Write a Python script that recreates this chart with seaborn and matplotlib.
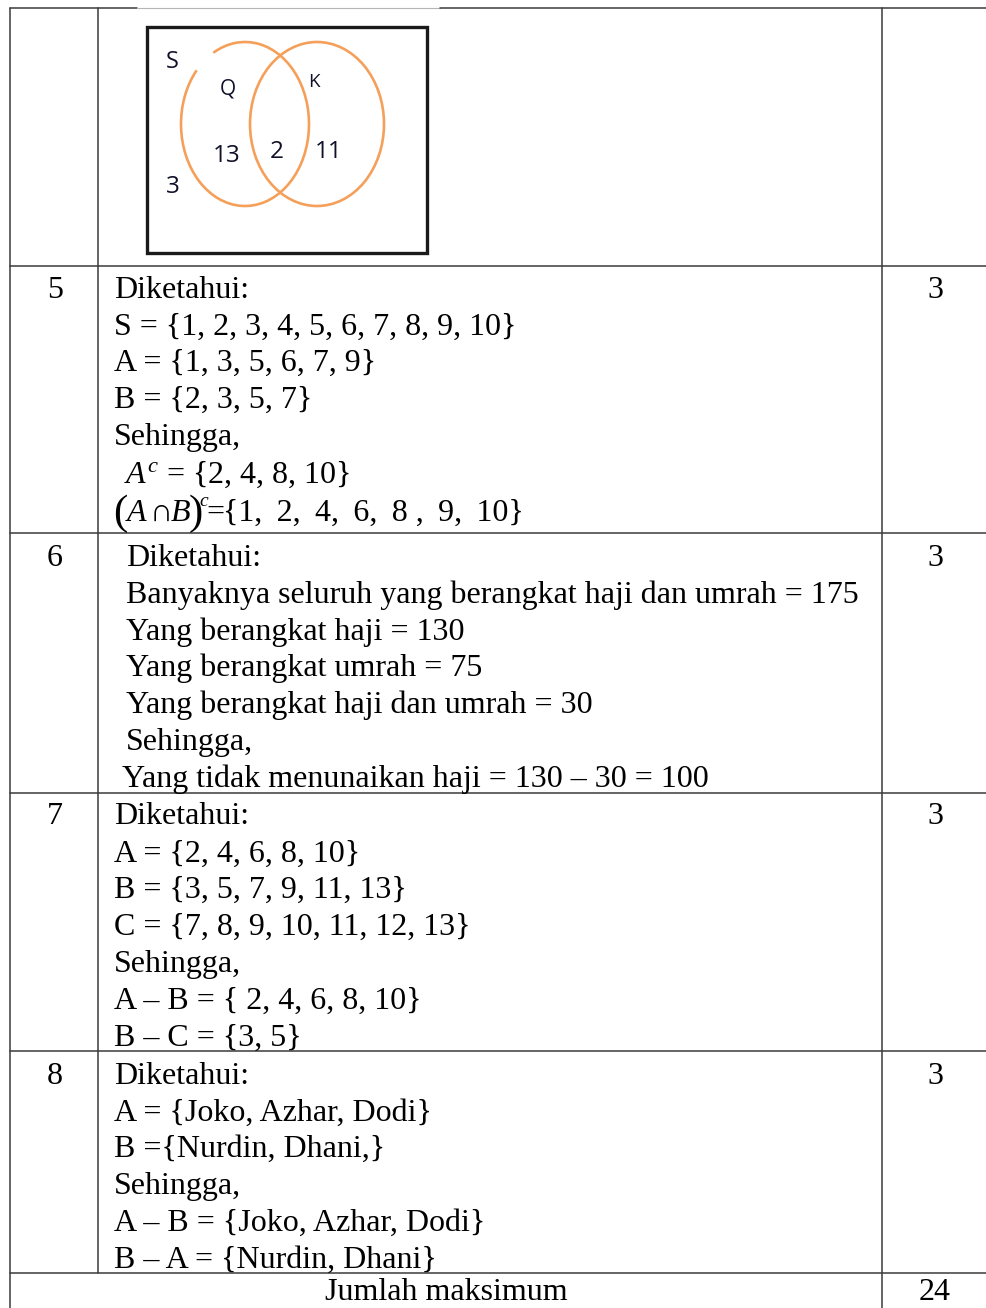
import matplotlib
matplotlib.use("Agg")
import matplotlib.pyplot as plt
import seaborn as sns
from matplotlib.patches import Rectangle, Arc, Ellipse

sns.set_theme(style="white")
plt.rcParams['font.family'] = ['Liberation Serif', 'DejaVu Serif']
plt.rcParams['mathtext.fontset'] = 'custom'
plt.rcParams['mathtext.rm'] = 'Liberation Serif'
plt.rcParams['mathtext.it'] = 'Liberation Serif:italic'

# ---- data ----
nomor = ['5', '6', '7', '8']
skor = ['3', '3', '3', '3']
baris5 = ['Diketahui:', 'S = {1, 2, 3, 4, 5, 6, 7, 8, 9, 10}', 'A = {1, 3, 5, 6, 7, 9}',
          'B = {2, 3, 5, 7}', 'Sehingga,', r'$A^c$ = {2, 4, 8, 10}']
irisan = ['(', '$A$', r'$\cap$', '$B$', ')', '$c$', '=',
          '{1,\u2009 2,\u2009 4,\u2009 6,\u2009 8 ,\u2009 9,\u2009 10}']
baris6 = ['Diketahui:', 'Banyaknya seluruh yang berangkat haji dan umrah = 175',
          'Yang berangkat haji = 130', 'Yang berangkat umrah = 75',
          'Yang berangkat haji dan umrah = 30', 'Sehingga,',
          'Yang tidak menunaikan haji = 130 \u2013 30 = 100']
baris7 = ['Diketahui:', 'A = {2, 4, 6, 8, 10}', 'B = {3, 5, 7, 9, 11, 13}',
          'C = {7, 8, 9, 10, 11, 12, 13}', 'Sehingga,',
          'A \u2013 B = { 2, 4, 6, 8, 10}', 'B \u2013 C = {3, 5}']
baris8 = ['Diketahui:', 'A = {Joko, Azhar, Dodi}', 'B ={Nurdin, Dhani,}', 'Sehingga,',
          'A \u2013 B = {Joko, Azhar, Dodi}', 'B \u2013 A = {Nurdin, Dhani}']
total_label = 'Jumlah maksimum'
total_skor = '24'

venn_labels = ['S', 'Q', 'K', '13', '2', '11', '3']

# ---- layout (pixels) ----
W, H = 986, 1308
row_lines = [266, 533, 793, 1051, 1273]
row_tops = [290, 558, 817, 1076]
line_gap = 36.9
col_a, col_b, col_c = 10, 98, 882
grid = '#3a3a3a'

fig = plt.figure(figsize=(W / 100, H / 100), dpi=100)
ax = fig.add_axes([0, 0, 1, 1])
ax.set_xlim(0, W)
ax.set_ylim(H, 0)
ax.axis('off')

# table grid
ax.plot([col_a, 137], [8, 8], color=grid, lw=1.1)
ax.plot([137, 440], [8, 8], color='#b5b5b5', lw=0.8)
ax.plot([440, W], [8, 8], color=grid, lw=1.1)
for y in row_lines:
    ax.plot([col_a, W], [y, y], color=grid, lw=1.1)
ax.plot([col_a, col_a], [8, H], color=grid, lw=1.1)
ax.plot([col_b, col_b], [8, row_lines[-1]], color=grid, lw=1.1)
ax.plot([col_c, col_c], [8, H], color=grid, lw=1.1)

# venn diagram
ax.add_patch(Rectangle((147, 27), 280, 226, fill=False, ec='#1a1a1a', lw=2.4))
orange = '#F5A05A'
ax.add_patch(Arc((245, 124), 128, 164, theta1=246, theta2=588, color=orange, lw=1.9))
ax.add_patch(Ellipse((317, 124), 134, 164, fill=False, ec=orange, lw=1.9))
venn_pos = [(172, 62, 17), (228, 89, 15), (314, 82, 13.5), (227, 156, 17.5),
            (277, 152, 17.5), (329, 152, 17.5), (173, 187, 17.5)]
for lab, (x, y, s) in zip(venn_labels, venn_pos):
    ax.text(x, y, lab, ha='center', va='center', fontsize=s,
            family=['Open Sans', 'DejaVu Sans'], color='#101028')

# rows
fs = 23
row_x = [[114] * 5 + [124], [126] * 6 + [122], [114] * 7, [114] * 6]
for i, lines in enumerate([baris5, baris6, baris7, baris8]):
    y0 = row_tops[i]
    ax.text(55, y0, nomor[i], ha='center', va='center', fontsize=fs, color='black')
    ax.text(935, y0, skor[i], ha='center', va='center', fontsize=fs, color='black')
    for j, t in enumerate(lines):
        ax.text(row_x[i][j], y0 + j * line_gap, t, ha='left', va='center',
                fontsize=fs, color='black')

# (A n B)^c line, placed piece by piece so the brackets can be taller
base = 521
piece_x = [113, 125, 149, 170, 189, 199, 206, 223]
piece_dy = [3, 0, 0, 0, 3, -15, 0, 0]
piece_fs = [31, fs, fs, fs, 31, 14, fs, fs]
for t, x, dy, s in zip(irisan, piece_x, piece_dy, piece_fs):
    ax.text(x, base + dy, t, ha='left', va='baseline', fontsize=s, color='black',
            fontweight='light')

ax.text(446, 1293, total_label, ha='center', va='center', fontsize=fs, color='black')
ax.text(935, 1293, total_skor, ha='center', va='center', fontsize=fs, color='black')

fig.savefig('out.png', dpi=100)
